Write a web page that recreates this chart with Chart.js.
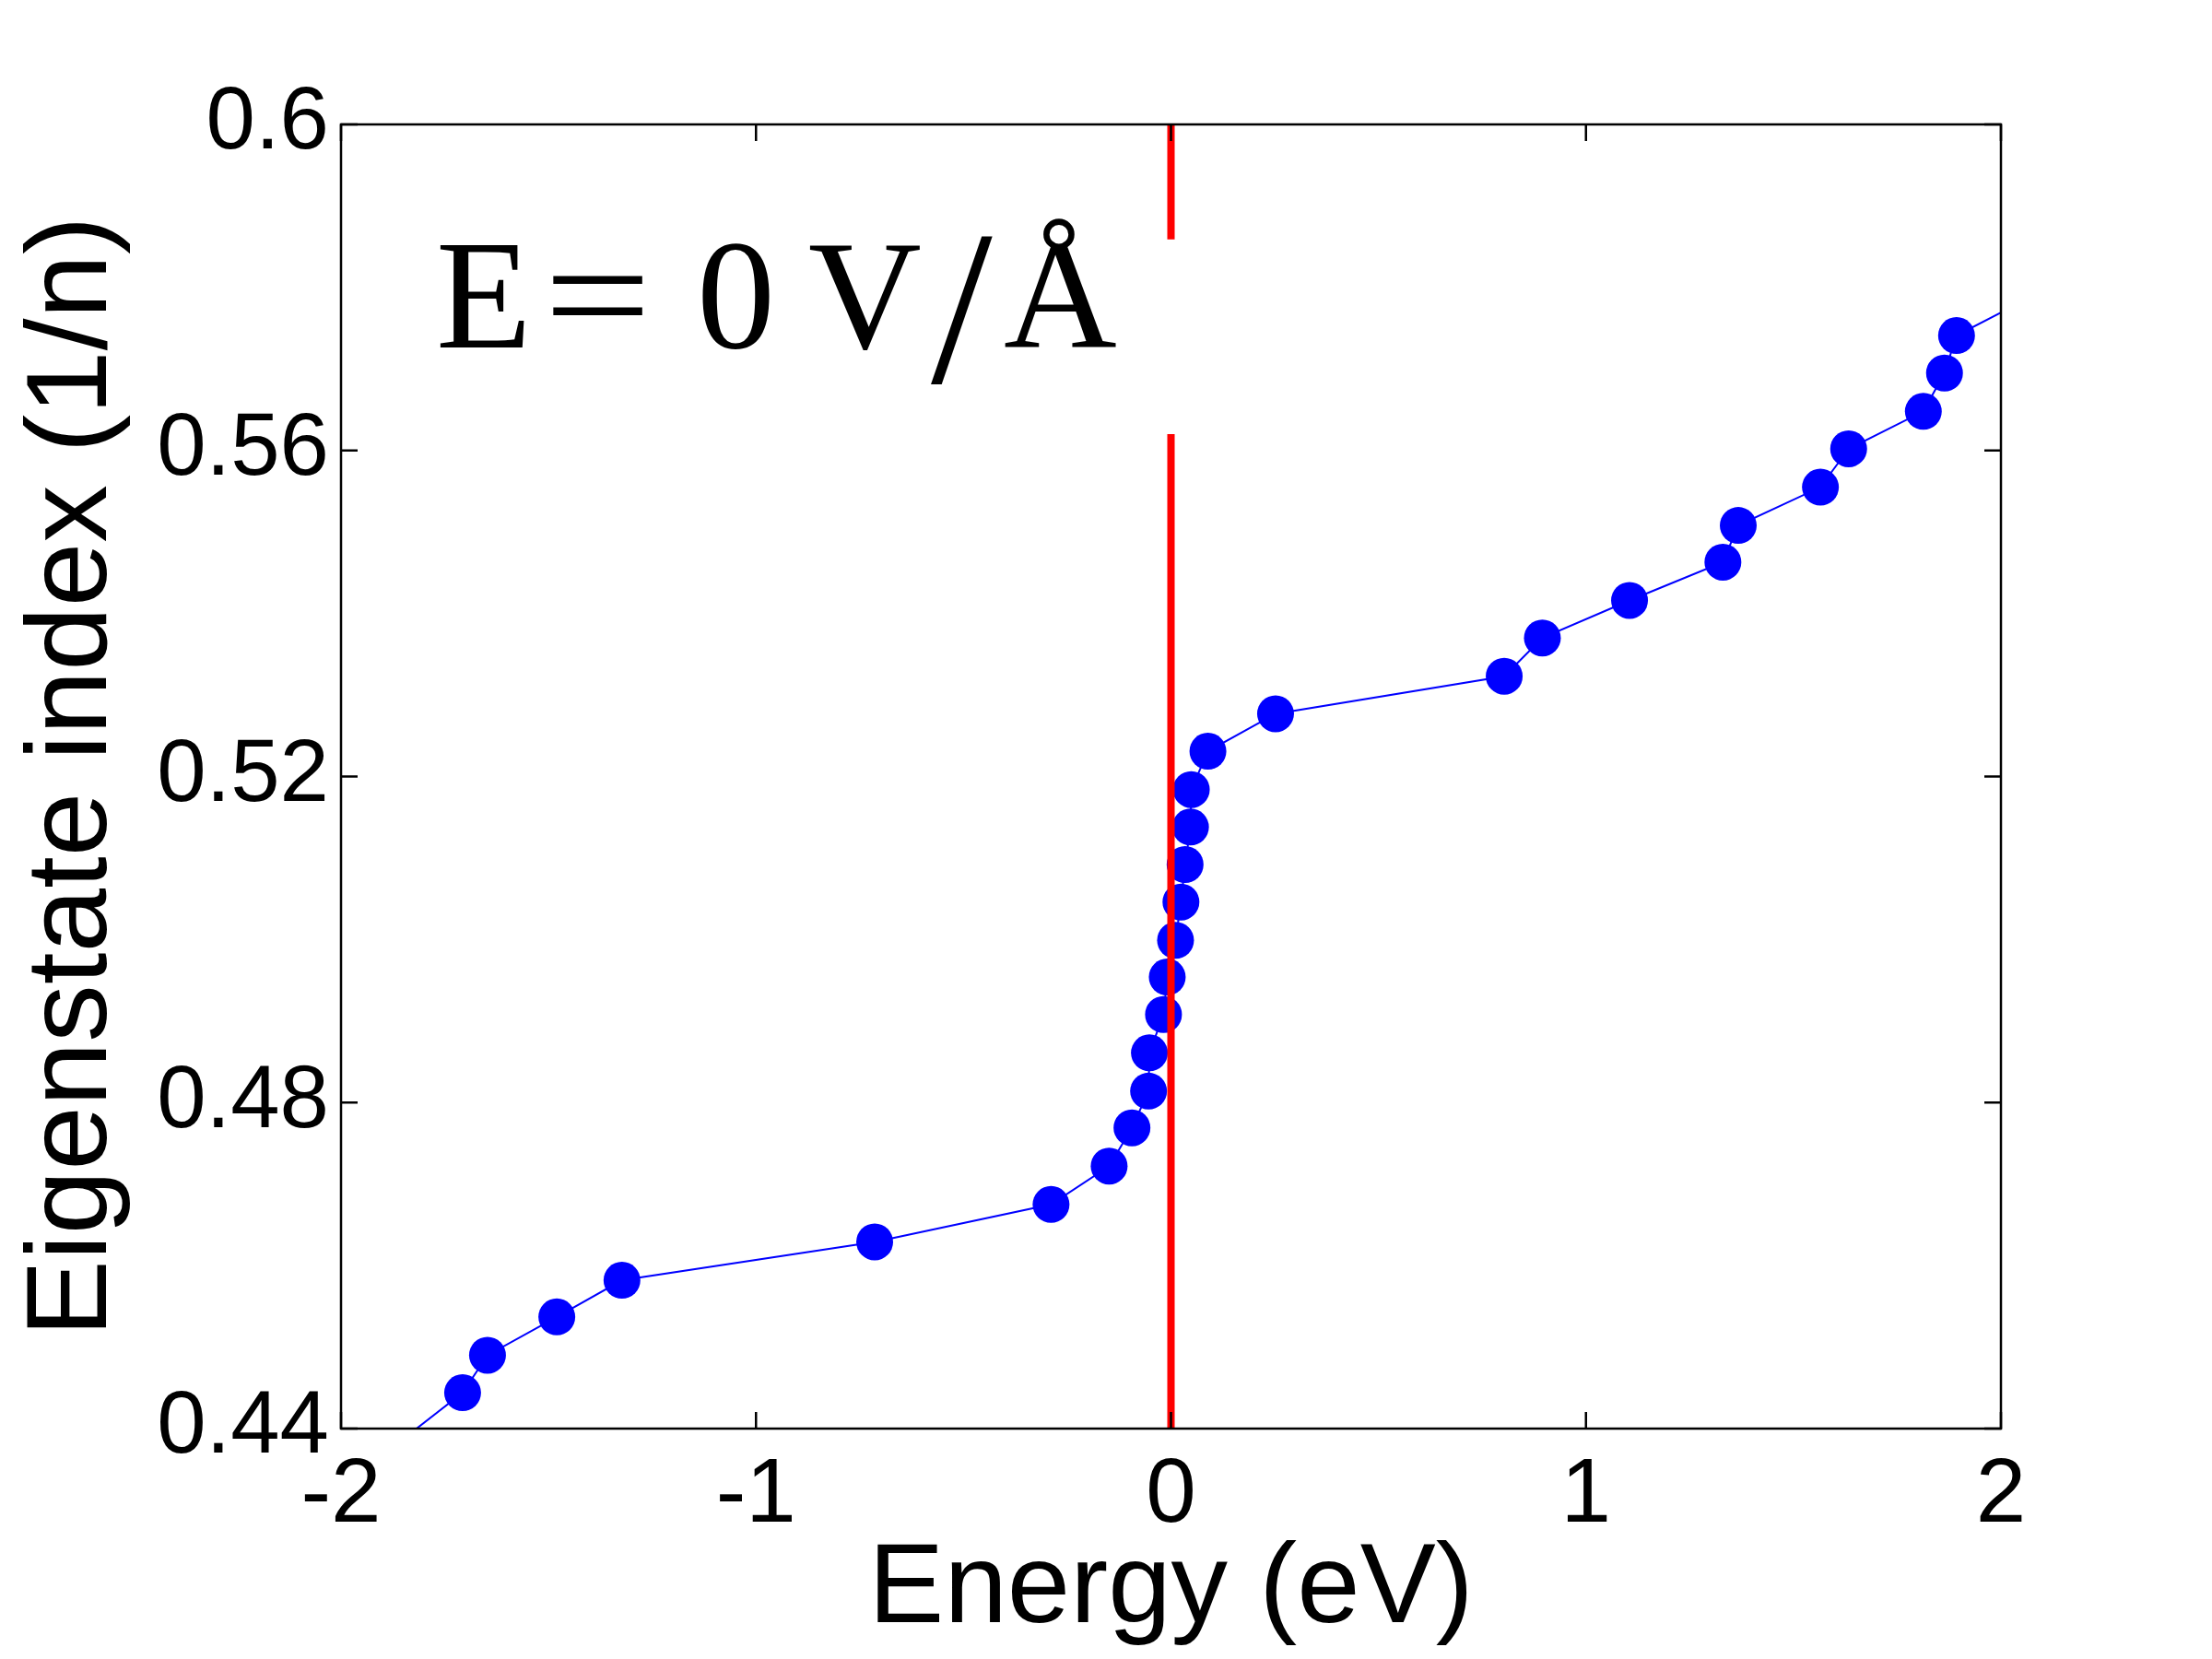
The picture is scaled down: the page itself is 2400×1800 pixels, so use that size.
<!DOCTYPE html>
<html>
<head>
<meta charset="utf-8">
<script src="https://cdn.jsdelivr.net/npm/chart.js@4.4.1/dist/chart.umd.min.js"></script>
<style>
  html, body { margin: 0; padding: 0; background: #fff; }
  canvas { display: block; }
</style>
</head>
<body>
<canvas id="myChart" width="2400" height="1800"></canvas>
<script>
'use strict';
// eigenstates
const energy = [-1.823, -1.707, -1.647, -1.480, -1.323, -0.714, -0.289, -0.149, -0.094, -0.054,
  -0.052, -0.018, -0.009, 0.011, 0.024, 0.034, 0.047, 0.049, 0.089, 0.252,
  0.803, 0.895, 1.105, 1.330, 1.367, 1.565, 1.633, 1.813, 1.864, 1.893, 2.068];
const stateIndex = [0.4398, 0.4444, 0.4490, 0.4537, 0.4582, 0.4629, 0.4675, 0.4722, 0.4769, 0.4814,
  0.4861, 0.4908, 0.4954, 0.4999, 0.5046, 0.5092, 0.5138, 0.5184, 0.5231, 0.5277,
  0.5323, 0.5370, 0.5416, 0.5463, 0.5508, 0.5555, 0.5602, 0.5648, 0.5695, 0.5741, 0.5787];

// red Fermi-level line, broken around the label
const fermiX = [0, 0, 0, 0, 0];
const fermiY = [0.6, 0.5859, null, 0.5620, 0.44];

const xTicks = [-2, -1, 0, 1, 2];
const yTicks = [0.44, 0.48, 0.52, 0.56, 0.6];
const xRange = [-2, 2];
const yRange = [0.44, 0.6];

const sans = "'Liberation Sans', Arial, sans-serif";
const serif = "'Liberation Serif', 'Times New Roman', serif";

const boxPlugin = {
  id: 'box',
  afterDatasetsDraw(chart) {
    const { ctx, chartArea: a, scales } = chart;
    const len = 18;
    ctx.save();
    ctx.strokeStyle = '#000';
    ctx.lineWidth = 2.5;
    ctx.strokeRect(a.left, a.top, a.right - a.left, a.bottom - a.top);
    ctx.beginPath();
    xTicks.forEach(v => {
      const px = scales.x.getPixelForValue(v);
      ctx.moveTo(px, a.bottom); ctx.lineTo(px, a.bottom - len);
      ctx.moveTo(px, a.top); ctx.lineTo(px, a.top + len);
    });
    yTicks.forEach(v => {
      const py = scales.y.getPixelForValue(v);
      ctx.moveTo(a.left, py); ctx.lineTo(a.left + len, py);
      ctx.moveTo(a.right, py); ctx.lineTo(a.right - len, py);
    });
    ctx.stroke();

    // field label
    const base = a.top + 242;
    ctx.fillStyle = '#000';
    ctx.textBaseline = 'alphabetic';
    ctx.textAlign = 'left';
    ctx.font = '170px ' + serif;
    ctx.fillText('E', a.left + 103, base);
    ctx.save();
    ctx.translate(a.left + 220, base);
    ctx.scale(1.22, 1);
    ctx.fillText('=', 0, 0);
    ctx.restore();
    ctx.fillText('0', a.left + 386, base);
    ctx.fillText('V', a.left + 507, base);
    ctx.fillText('Å', a.left + 719, base);
    ctx.font = '240px ' + serif;
    ctx.fillText('/', a.left + 640, base + 38);
    ctx.restore();
  }
};

const inRange = (c) => {
  const p = c.raw;
  return p && p.x >= xRange[0] && p.x <= xRange[1] && p.y >= yRange[0] && p.y <= yRange[1];
};

var ctx = document.getElementById('myChart').getContext('2d');
var myChart = new Chart(ctx, {
  type: 'scatter',
  data: {
    datasets: [{
      label: 'E_F',
      data: fermiX.map((x, i) => ({ x: x, y: fermiY[i] })),
      showLine: true,
      borderColor: '#ff0000',
      borderWidth: 8,
      pointRadius: 0,
      spanGaps: false,
      order: 0,
      clip: 0
    }, {
      label: 'Eigenstates',
      data: energy.map((x, i) => ({ x: x, y: stateIndex[i] })),
      showLine: true,
      borderColor: '#0000ff',
      borderWidth: 2,
      backgroundColor: '#0000ff',
      pointBackgroundColor: '#0000ff',
      pointBorderWidth: 0,
      pointRadius: c => inRange(c) ? 20 : 0,
      pointHoverRadius: c => inRange(c) ? 20 : 0,
      order: 1,
      clip: 0
    }]
  },
  options: {
    responsive: false,
    devicePixelRatio: 1,
    animation: false,
    layout: { padding: { left: 0, top: 135, right: 229, bottom: 0 } },
    plugins: {
      legend: { display: false },
      tooltip: { enabled: false }
    },
    scales: {
      x: {
        type: 'linear',
        min: xRange[0],
        max: xRange[1],
        afterBuildTicks: s => { s.ticks = xTicks.map(v => ({ value: v })); },
        afterFit: s => { s.height = 250; },
        grid: { display: false },
        border: { display: false },
        ticks: {
          autoSkip: false,
          maxRotation: 0,
          padding: 7,
          color: '#000',
          font: { family: sans, size: 98 },
          callback: v => String(v)
        },
        title: {
          display: true,
          text: 'Energy (eV)',
          color: '#000',
          padding: { top: 0, bottom: 0 },
          font: { family: sans, size: 123 }
        }
      },
      y: {
        type: 'linear',
        min: yRange[0],
        max: yRange[1],
        afterBuildTicks: s => { s.ticks = yTicks.map(v => ({ value: v })); },
        afterFit: s => { s.width = 370; },
        grid: { display: false },
        border: { display: false },
        ticks: {
          autoSkip: false,
          padding: 5,
          color: '#000',
          font: { family: sans, size: 96 },
          callback: v => String(v)
        },
        title: {
          display: true,
          text: 'Eigenstate index (1/n)',
          color: '#000',
          padding: { top: 6, bottom: 0 },
          font: { family: sans, size: 125 }
        }
      }
    }
  },
  plugins: [boxPlugin]
});
</script>
</body>
</html>
